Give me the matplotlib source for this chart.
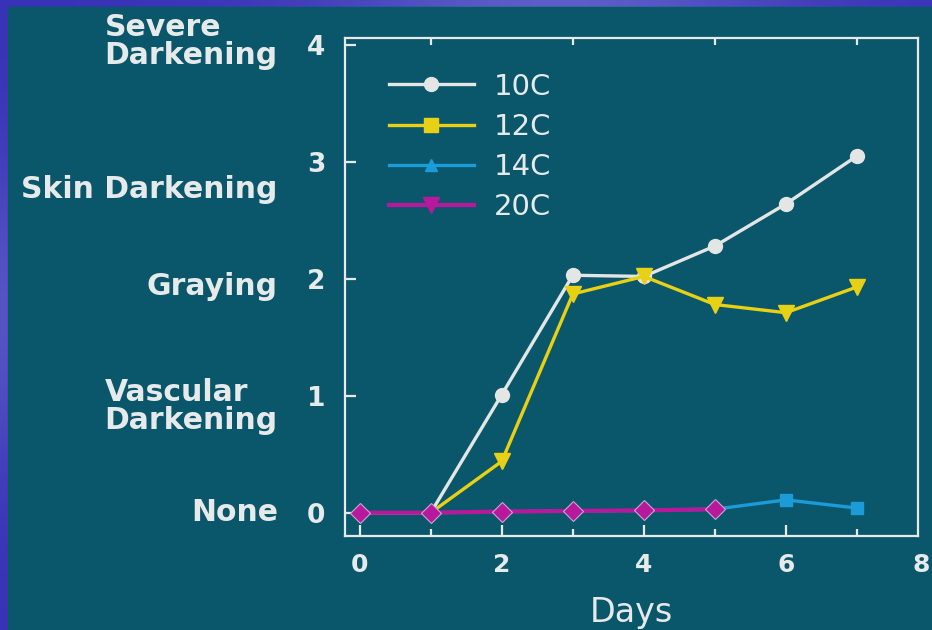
import matplotlib
matplotlib.use("Agg")
import matplotlib.pyplot as plt
import numpy as np
from matplotlib.lines import Line2D
from matplotlib.patches import Rectangle
from matplotlib.ticker import MultipleLocator
import matplotlib.transforms as mtransforms

# data
days = [0, 1, 2, 3, 4, 5, 6, 7]
c10 = [0, 0, 1.01, 2.03, 2.02, 2.28, 2.64, 3.05]
c12 = [0, 0, 0.44, 1.87, 2.02, 1.78, 1.71, 1.93]
c14 = [0, 0, 0.01, 0.015, 0.02, 0.03, 0.11, 0.04]
c20 = [0, 0, 0.01, 0.015, 0.02, 0.03]
series_names = ["10C", "12C", "14C", "20C"]
level_names = ["None", "Vascular\nDarkening", "Graying", "Skin Darkening", "Severe\nDarkening"]
level_y = [0.0, 0.91, 1.93, 2.76, 4.03]

teal = "#0a576b"
fg = "#e6eaea"
white_c = "#e4e6e6"
yellow_c = "#e8d014"
blue_c = "#1b9bd8"
magenta_c = "#b8189c"

plt.rcParams["font.family"] = "DejaVu Sans"

fig = plt.figure(figsize=(9.32, 6.30), dpi=100)

# slide frame: blue gradient with teal panel
bg = fig.add_axes([0, 0, 1, 1], zorder=-10)
bg.axis("off")
gx = np.linspace(0, 1, 200)
gy = np.linspace(0, 1, 120)
GX, GY = np.meshgrid(gx, gy)
light = np.exp(-((GX - 0.6) / 0.25) ** 2) * 0.5 + np.exp(-((GY - 0.5) / 0.25) ** 2) * 0.4
c0 = np.array([0x38, 0x32, 0xb6]) / 255
c1 = np.array([0x80, 0x88, 0xd8]) / 255
img = c0 + (c1 - c0) * np.clip(light, 0, 1)[..., None]
bg.imshow(img, extent=[0, 1, 0, 1], aspect="auto", transform=fig.transFigure)
bg.add_patch(Rectangle((8 / 932, 0), 1, 1 - 7 / 630, transform=fig.transFigure,
                       color=teal, zorder=2))

ax = fig.add_axes([0.370, 0.149, 0.615, 0.791])
ax.set_facecolor(teal)

lw = 2.4
ax.plot(days, c10, color=white_c, lw=lw, marker="o", ms=10, mec=white_c,
        markevery=[2, 3, 4, 5, 6, 7], zorder=3)
ax.plot(days, c12, color=yellow_c, lw=lw, marker="v", ms=11, mec=yellow_c,
        markevery=[2, 3, 4, 5, 6, 7], zorder=4)
ax.plot(days, c14, color=blue_c, lw=lw, marker="s", ms=9, mec=blue_c,
        markevery=[6, 7], zorder=2)
ax.plot(days[:len(c20)], c20, color=magenta_c, lw=lw + 0.6, marker="D", ms=10,
        mec="#c8a8d0", mew=0.8, zorder=5)

ax.set_xlim(-0.21, 7.86)
ax.set_ylim(-0.2, 4.06)

for s in ax.spines.values():
    s.set_color(fg)
    s.set_linewidth(1.6)

ax.xaxis.set_major_locator(MultipleLocator(2))
ax.xaxis.set_minor_locator(MultipleLocator(1))
ax.yaxis.set_major_locator(MultipleLocator(1))
ax.tick_params(axis="x", which="major", direction="in", length=8, width=1.6,
               color=fg, labelcolor=fg, labelsize=18, pad=12, top=False)
ax.tick_params(axis="x", which="minor", direction="in", length=5, width=1.6,
               color=fg, top=True, bottom=True)
ax.tick_params(axis="y", which="major", direction="in", length=8, width=1.6,
               color=fg, labelcolor=fg, labelsize=19, pad=14)
for t in ax.get_xticklabels() + ax.get_yticklabels():
    t.set_fontweight("bold")

# the "8" label sits just past the right edge of the frame, nudged to stay on the slide
off = mtransforms.offset_copy(ax.get_xaxis_transform(), fig=fig, x=-5, y=-12, units="points")
ax.text(8, 0, "8", transform=off, ha="center", va="top", fontsize=18,
        fontweight="bold", color=fg, clip_on=False)

ax.set_xlabel("Days", color=fg, fontsize=24, labelpad=14)

trans = mtransforms.blended_transform_factory(ax.transAxes, ax.transData)
for name, yv in zip(level_names, level_y):
    ax.text(-0.117, yv, name, transform=trans, ha="right", va="center",
            multialignment="left", linespacing=0.95, fontsize=21.5,
            fontweight="bold", color=fg, clip_on=False)

handles = [
    Line2D([], [], color=white_c, lw=lw, marker="o", ms=10, mec=white_c),
    Line2D([], [], color=yellow_c, lw=lw, marker="s", ms=10, mec=yellow_c),
    Line2D([], [], color=blue_c, lw=lw, marker="^", ms=9, mec=blue_c),
    Line2D([], [], color=magenta_c, lw=lw + 0.6, marker="v", ms=12, mec=magenta_c),
]
leg = ax.legend(handles, series_names, loc="upper left", bbox_to_anchor=(0.077, 0.93),
                frameon=False, fontsize=21, handlelength=2.9, handletextpad=0.7,
                labelspacing=0.42, borderpad=0, borderaxespad=0)
for t in leg.get_texts():
    t.set_color(fg)

fig.savefig("out.png", dpi=100, facecolor=fig.get_facecolor())
